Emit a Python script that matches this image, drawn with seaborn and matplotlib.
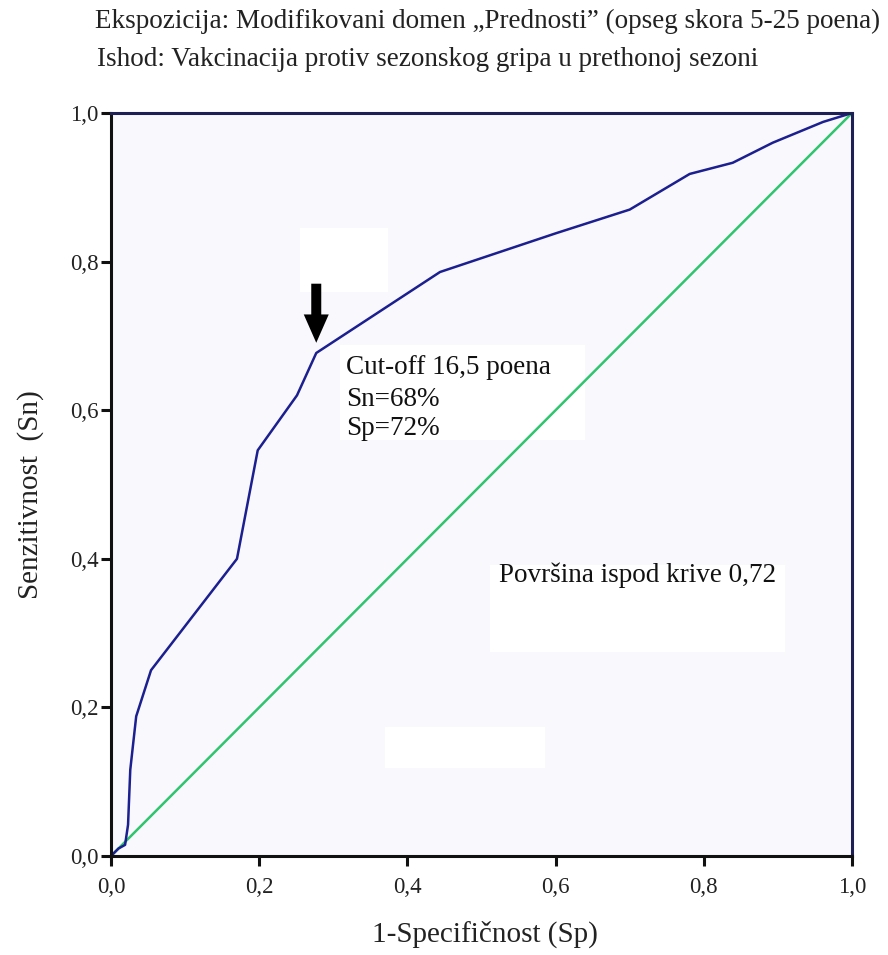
import matplotlib
matplotlib.use("Agg")
import matplotlib.pyplot as plt
import seaborn as sns
import pandas as pd
from matplotlib.patches import Rectangle

# ROC curve data (1-Specificity, Sensitivity)
fpr = [0.0, 0.010, 0.019, 0.023, 0.026, 0.034, 0.054, 0.170, 0.198, 0.251, 0.277,
       0.444, 0.600, 0.700, 0.781, 0.839, 0.893, 0.961, 1.0]
tpr = [0.0, 0.010, 0.015, 0.042, 0.116, 0.188, 0.250, 0.400, 0.546, 0.620, 0.677,
       0.786, 0.838, 0.870, 0.918, 0.933, 0.960, 0.988, 1.0]
ref_x = [0.0, 1.0]
ref_y = [0.0, 1.0]
tick_vals = [0.0, 0.2, 0.4, 0.6, 0.8, 1.0]
tick_labels = ["0,0", "0,2", "0,4", "0,6", "0,8", "1,0"]

title1 = "Ekspozicija: Modifikovani domen \u201ePrednosti\u201d (opseg skora 5-25 poena)"
title2 = "Ishod: Vakcinacija protiv sezonskog gripa u prethonoj sezoni"
xlabel = "1-Specifi\u010dnost (Sp)"
ylabel = "Senzitivnost  (Sn)"
cutoff_lines = ["Cut-off 16,5 poena", "Sn=68%", "Sp=72%"]
auc_text = "Povr\u0161ina ispod krive 0,72"
cut_x, cut_y = 0.277, 0.677

sns.set_theme(style="white")
plt.rcParams["font.family"] = ["Liberation Serif", "DejaVu Serif"]

fig = plt.figure(figsize=(8.88, 9.55), dpi=100)
ax = fig.add_axes([111/888, 1-856/955, (852-111)/888, (856-113)/955])
ax.set_facecolor("#f9f9fd")

roc = pd.DataFrame({"fpr": fpr, "tpr": tpr})
ref = pd.DataFrame({"x": ref_x, "y": ref_y})
sns.lineplot(data=ref, x="x", y="y", ax=ax, color="#2fc46e", lw=1.8, sort=False)
sns.lineplot(data=roc, x="fpr", y="tpr", ax=ax, color="#1c1f8f", lw=1.8, sort=False)

ax.set_xlim(0, 1)
ax.set_ylim(0, 1)
ax.set_xticks(tick_vals)
ax.set_xticklabels(tick_labels)
ax.set_yticks(tick_vals)
ax.set_yticklabels(tick_labels)
ax.tick_params(axis="both", direction="out", length=7, width=2.2, color="#111111",
               labelsize=16.5, labelcolor="#222222", pad=2,
               bottom=True, left=True)
ax.tick_params(axis="x", pad=8)
for side, sp in ax.spines.items():
    sp.set_visible(True)
    sp.set_linewidth(2.2)
    sp.set_color("#111111" if side in ("left", "bottom") else "#1d1f55")

ax.set_xlabel(xlabel, fontsize=21, color="#222222")
ax.set_ylabel(ylabel, fontsize=21, color="#222222")
ax.xaxis.set_label_coords((485 - 111) / 741, (856 - 921) / 743)
ax.yaxis.set_label_coords((44 - 111) / 741, (856 - 495) / 743)

# white editing patches seen in the reference
for (px0, py0, px1, py1) in [(300, 228, 388, 292), (490, 565, 785, 652), (385, 727, 545, 768), (340, 345, 585, 440)]:
    x0 = (px0 - 111) / 741
    y0 = (856 - py1) / 743
    ax.add_patch(Rectangle((x0, y0), (px1 - px0) / 741, (py1 - py0) / 743,
                           transform=ax.transAxes, facecolor="white", edgecolor="none", zorder=0.5))

# arrow pointing to cut-off
ax.annotate("", xy=(cut_x, cut_y + 0.010), xytext=(cut_x, cut_y + 0.097),
            arrowprops=dict(arrowstyle="simple,head_width=1.5,head_length=1.7,tail_width=0.6",
                            color="black", lw=0), zorder=5)

for txt, yy in zip(cutoff_lines, [0.658, 0.615, 0.576]):
    ax.text(0.317, yy, txt, fontsize=19.5, color="#111111", va="center", ha="left", zorder=6)
ax.text(0.523, 0.378, auc_text, fontsize=19.5, color="#111111", va="center", ha="left", zorder=6)

fig.text(95/888, 1-21/955, title1, fontsize=19.5, color="#222222", va="center", ha="left")
fig.text(97/888, 1-60/955, title2, fontsize=19.5, color="#222222", va="center", ha="left")

fig.savefig("out.png", dpi=100, facecolor="white")
